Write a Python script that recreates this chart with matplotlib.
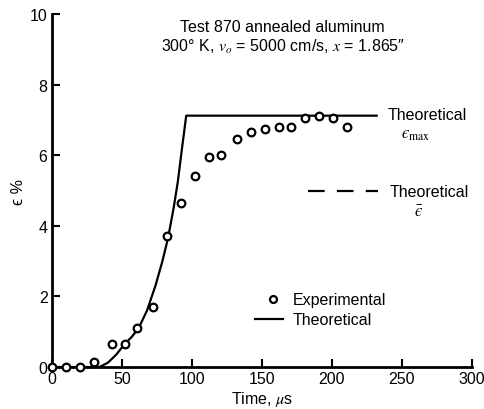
import matplotlib
matplotlib.use('Agg')
import matplotlib.pyplot as plt

plt.rcParams['font.family'] = ['Liberation Sans', 'DejaVu Sans']
plt.rcParams['mathtext.fontset'] = 'stix'

# experimental points (time in us, strain in %)
exp_time = [0, 10, 20, 30, 43, 52, 61, 72, 82, 92, 102, 112, 121, 132, 142, 152, 162, 171, 181, 191, 201, 211]
exp_strain = [0, 0, 0, 0.15, 0.65, 0.65, 1.1, 1.7, 3.7, 4.65, 5.4, 5.95, 6.0, 6.45, 6.65, 6.75, 6.8, 6.8, 7.05, 7.1, 7.05, 6.8]

# theoretical curve
theo_time = [0, 34, 40, 46, 52, 57, 62, 68, 74, 79, 83, 87, 90, 93, 96, 232]
theo_strain = [0, 0, 0.12, 0.35, 0.65, 0.85, 1.1, 1.6, 2.3, 3.0, 3.65, 4.5, 5.25, 6.2, 7.12, 7.12]

# theoretical mean strain marker (dashed)
mean_time = [183, 233]
mean_strain = [5.0, 5.0]

xticks = [0, 50, 100, 150, 200, 250, 300]
yticks = [0, 2, 4, 6, 8, 10]

fig = plt.figure(figsize=(4.84, 4.10), dpi=100)
ax = fig.add_axes([0.107, 0.1024, 0.868, 0.861])

ax.plot(theo_time, theo_strain, color='black', linewidth=1.6, clip_on=False)
ax.plot(exp_time, exp_strain, 'o', markersize=5.5, markerfacecolor='white',
        markeredgecolor='black', markeredgewidth=1.6, clip_on=False, zorder=3)
ax.plot(mean_time, mean_strain, color='black', linewidth=1.6, dashes=(7.5, 5.5))

ax.set_xlim(0, 300)
ax.set_ylim(0, 10)
ax.set_xticks(xticks)
ax.set_yticks(yticks)
ax.tick_params(direction='in', length=6, width=1.5, labelsize=11.5, pad=3)
for side in ['top', 'right']:
    ax.spines[side].set_visible(False)
for side in ['left', 'bottom']:
    ax.spines[side].set_linewidth(2)

ax.set_xlabel('Time, $\\mu$s', fontsize=11.5, labelpad=2)
ax.set_ylabel('\u03f5 %', fontsize=11.5, labelpad=3)

fig.text(0.583, 0.932, 'Test 870 annealed aluminum', ha='center', va='center', fontsize=11.5)
fig.text(0.585, 0.885, "300\u00b0 K, $v_o$ = 5000 cm/s, $x$ = 1.865\u2033",
         ha='center', va='center', fontsize=11.5)

# right side labels
ax.text(240, 7.15, 'Theoretical', fontsize=11.5, va='center', ha='left')
ax.text(260, 6.6, '$\u03f5_{\\mathrm{max}}$', fontsize=12, va='center', ha='center')
ax.text(241, 4.98, 'Theoretical', fontsize=11.5, va='center', ha='left')
ax.text(262, 4.42, '$\\bar{\u03f5}$', fontsize=12, va='center', ha='center')

# legend, drawn by hand like the original
ax.plot([158], [1.92], 'o', markersize=5, markerfacecolor='white',
        markeredgecolor='black', markeredgewidth=1.6)
ax.text(172, 1.92, 'Experimental', fontsize=11.5, va='center', ha='left')
ax.plot([145, 165], [1.35, 1.35], color='black', linewidth=1.6)
ax.text(172, 1.35, 'Theoretical', fontsize=11.5, va='center', ha='left')

fig.savefig('out.png', dpi=100)
